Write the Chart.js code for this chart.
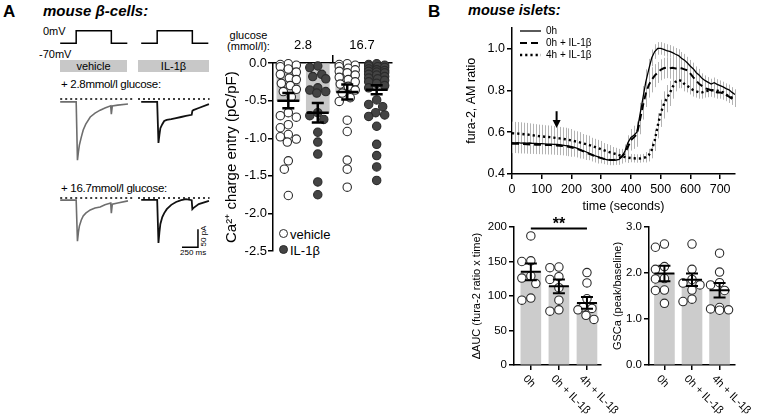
<!DOCTYPE html>
<html>
<head>
<meta charset="utf-8">
<script src="https://cdn.jsdelivr.net/npm/chart.js@4.4.1/dist/chart.umd.min.js"></script>
<style>
body { margin: 0; background: #fff; }
#fig { position: relative; width: 761px; height: 417px; overflow: hidden; font-family: "Liberation Sans", Arial, sans-serif; color: #000; }
#fig canvas { position: absolute; }
.t { position: absolute; white-space: nowrap; line-height: 1; }
.box { position: absolute; background: #c8c8c8; height: 12px; font-size: 11px; line-height: 12px; text-align: center; }
.dot { position: absolute; width: 7px; height: 7px; border-radius: 50%; border: 1.2px solid #2b2b2b; }
</style>
</head>
<body>
<div id="fig"></div>
<script>
// ---- panel A, patch clamp traces (ms / pA) ----
const traceT  = [0, 250, 270, 285, 300, 330, 360, 400, 470, 545, 625, 700, 790, 800, 815, 900, 1060];
const veh28   = [-8, -8, -170, -147, -128, -106, -86, -70, -50, -39, -31, -25, -19, -42, -19, -17, -14];
const il28    = [-8, -8, -122, -100, -81, -70, -61, -58, -56, -53, -50, -47, -44, -33, -31, -25, -14];
const veh167  = [-6, -6, -120, -95, -78, -61, -50, -42, -33, -28, -25, -19, -14, -42, -17, -14, -8];
const il167   = [-5, -5, -125, -95, -72, -53, -42, -31, -19, -11, -6, -3, -6, -31, -28, -17, -8];
const stepT   = [0, 250, 250, 800, 800, 1050];
const stepMV  = [-70, -70, 0, 0, -70, -70];
const scaleBarMs = 250, scaleBarPA = 50;

// ---- panel A, charge entry ----
const groupsA = ['2.8', '16.7'];
const yTicksA = [0, -0.5, -1, -1.5, -2, -2.5];
const meanA = [-0.50, -0.66, -0.385, -0.355];
const semA  = [0.10, 0.13, 0.10, 0.06];
const vehLow  = [-0.01,-0.02,-0.03,-0.05,-0.08,-0.12,-0.15,-0.2,-0.22,-0.27,-0.3,-0.35,-0.38,-0.45,-0.66,-0.7,-0.72,-0.82,-0.86,-0.95,-0.98,-1.01,-1.05,-1.3,-1.41,-1.76];
const ilLow   = [-0.04,-0.06,-0.15,-0.18,-0.21,-0.33,-0.36,-0.38,-0.4,-0.66,-0.7,-0.75,-0.92,-1.05,-1.21,-1.58,-1.75];
const vehHigh = [-0.01,-0.02,-0.03,-0.05,-0.07,-0.09,-0.11,-0.13,-0.16,-0.19,-0.22,-0.25,-0.28,-0.31,-0.36,-0.4,-0.46,-0.51,-0.76,-0.91,-1.29,-1.41,-1.65];
const ilHigh  = [-0.01,-0.02,-0.03,-0.04,-0.05,-0.06,-0.08,-0.09,-0.1,-0.11,-0.12,-0.13,-0.15,-0.16,-0.18,-0.2,-0.21,-0.23,-0.25,-0.27,-0.3,-0.33,-0.49,-0.55,-0.58,-0.66,-0.69,-0.71,-0.84,-1.08,-1.23,-1.38,-1.56];

// ---- panel B, fura-2 time course ----
const timeS = [0,10,20,30,40,50,60,70,80,90,100,110,120,130,140,150,160,170,180,190,200,210,220,230,240,250,260,270,280,290,300,310,320,330,340,350,360,370,380,390,400,410,420,430,440,450,460,470,480,490,500,510,520,530,540,550,560,570,580,590,600,610,620,630,640,650,660,670,680,690,700,710,720,730,740,750];
const timeTicks = [0, 100, 200, 300, 400, 500, 600, 700];
const furaTicks = [0.4, 0.6, 0.8, 1.0];
const fura0h = [0.550,0.549,0.550,0.548,0.549,0.547,0.548,0.546,0.546,0.545,
  0.545,0.544,0.543,0.543,0.542,0.541,0.540,0.538,0.536,0.534,
  0.531,0.527,0.522,0.517,0.511,0.505,0.499,0.493,0.487,0.482,
  0.477,0.472,0.468,0.466,0.465,0.466,0.470,0.482,0.510,0.550,
  0.575,0.585,0.600,0.680,0.760,0.840,0.900,0.955,0.985,1.000,
  1.000,0.995,0.990,0.986,0.980,0.972,0.966,0.953,0.944,0.930,
  0.915,0.902,0.884,0.872,0.856,0.846,0.838,0.830,0.836,0.828,
  0.822,0.816,0.808,0.802,0.790,0.780];
const furaIL0h = [0.545,0.545,0.544,0.543,0.543,0.542,0.541,0.541,0.540,0.540,
  0.539,0.539,0.538,0.538,0.537,0.536,0.535,0.534,0.532,0.530,
  0.527,0.523,0.519,0.514,0.508,0.502,0.496,0.490,0.485,0.480,
  0.476,0.472,0.469,0.467,0.467,0.469,0.475,0.485,0.500,0.530,
  0.562,0.575,0.590,0.655,0.725,0.785,0.825,0.850,0.870,0.885,
  0.898,0.905,0.908,0.905,0.908,0.904,0.907,0.905,0.900,0.895,
  0.880,0.862,0.845,0.830,0.820,0.810,0.805,0.800,0.795,0.790,
  0.790,0.785,0.778,0.770,0.760,0.750];
const furaIL4h = [0.595,0.594,0.593,0.592,0.590,0.589,0.587,0.585,0.583,0.581,
  0.580,0.578,0.577,0.576,0.574,0.572,0.570,0.568,0.566,0.563,
  0.560,0.557,0.554,0.550,0.546,0.542,0.538,0.533,0.528,0.523,
  0.518,0.513,0.508,0.503,0.499,0.495,0.490,0.485,0.481,0.478,
  0.476,0.475,0.474,0.474,0.476,0.480,0.490,0.515,0.560,0.630,
  0.690,0.730,0.760,0.785,0.815,0.840,0.850,0.845,0.830,0.820,
  0.810,0.800,0.795,0.790,0.790,0.795,0.797,0.800,0.800,0.798,
  0.795,0.790,0.780,0.770,0.765,0.760];
const sem0h = [0.04,0.04,0.04,0.04,0.04,0.04,0.04,0.04,0.04,0.04,
  0.04,0.04,0.04,0.04,0.04,0.04,0.04,0.04,0.04,0.04,
  0.04,0.04,0.035,0.035,0.03,0.03,0.03,0.025,0.025,0.025,
  0.02,0.02,0.02,0.02,0.02,0.02,0.025,0.03,0.03,0.035,
  0.04,0.045,0.05,0.06,0.06,0.06,0.05,0.04,0.035,0.03,
  0.03,0.03,0.03,0.03,0.03,0.03,0.03,0.03,0.03,0.03,
  0.03,0.03,0.03,0.03,0.025,0.025,0.025,0.025,0.025,0.025,
  0.025,0.025,0.025,0.025,0.025,0.025];
const semIL0h = [0.045,0.045,0.045,0.045,0.045,0.045,0.045,0.045,0.045,0.045,
  0.045,0.045,0.045,0.045,0.045,0.045,0.045,0.045,0.045,0.045,
  0.045,0.04,0.04,0.04,0.035,0.035,0.03,0.03,0.03,0.03,
  0.025,0.025,0.025,0.025,0.025,0.025,0.03,0.035,0.04,0.045,
  0.05,0.055,0.06,0.065,0.065,0.065,0.06,0.06,0.055,0.05,
  0.05,0.05,0.05,0.05,0.05,0.05,0.05,0.05,0.05,0.05,
  0.045,0.04,0.035,0.035,0.03,0.03,0.03,0.03,0.03,0.03,
  0.03,0.03,0.03,0.03,0.03,0.03];
const semIL4h = [0.055,0.055,0.055,0.055,0.055,0.055,0.055,0.055,0.055,0.055,
  0.055,0.055,0.055,0.055,0.055,0.055,0.055,0.055,0.055,0.055,
  0.055,0.05,0.05,0.05,0.045,0.045,0.045,0.04,0.04,0.04,
  0.04,0.035,0.035,0.035,0.03,0.03,0.03,0.025,0.025,0.025,
  0.02,0.02,0.02,0.02,0.02,0.025,0.03,0.04,0.05,0.06,
  0.065,0.065,0.065,0.06,0.055,0.045,0.04,0.035,0.035,0.03,
  0.03,0.03,0.03,0.03,0.03,0.03,0.03,0.03,0.03,0.03,
  0.03,0.03,0.03,0.03,0.03,0.03];
const arrowAt = 150, arrowFrom = 0.70, arrowTo = 0.62;

// ---- panel B, summary bars ----
const catsB = ['0h', '0h + IL-1β', '4h + IL-1β'];
const aucTicks = [0, 50, 100, 150, 200];
const aucMean = [135, 114, 90];
const aucSem  = [12, 10, 8.5];
const auc0h   = [187, 151, 150, 129, 126, 118, 97, 94];
const aucIL0h = [142, 141, 128, 124, 112, 94, 80, 78];
const aucIL4h = [134, 119, 96, 84, 82, 80, 72, 66];
const sigLevel = 198;
const gscTicks = [0, 1, 2, 3];
const gscMean = [1.99, 1.855, 1.625];
const gscSem  = [0.17, 0.135, 0.155];
const gsc0h   = [2.63, 2.56, 2.14, 2.08, 1.88, 1.87, 1.63, 1.62, 1.34];
const gscIL0h = [2.63, 2.08, 1.86, 1.78, 1.74, 1.63, 1.43, 1.38];
const gscIL4h = [2.43, 2.02, 1.79, 1.74, 1.62, 1.25, 1.22, 1.2, 1.19];

const FONT = '"Liberation Sans", Arial, sans-serif';
Chart.defaults.font.family = FONT;
Chart.defaults.color = '#000';
Chart.defaults.animation = false;
Chart.defaults.responsive = false;
Chart.defaults.devicePixelRatio = 1;
Chart.defaults.plugins.legend.display = false;
Chart.defaults.plugins.tooltip.enabled = false;

const fig = document.getElementById('fig');

function canvasAt(left, top, w, h) {
  var c = document.createElement('canvas');
  c.width = w; c.height = h;
  c.style.left = left + 'px'; c.style.top = top + 'px';
  c.style.width = w + 'px'; c.style.height = h + 'px';
  fig.appendChild(c);
  return c;
}

function addText(txt, left, top, size, style) {
  var d = document.createElement('div');
  d.className = 't';
  d.textContent = txt;
  d.style.left = left + 'px'; d.style.top = top + 'px';
  d.style.fontSize = size + 'px';
  if (style) d.style.cssText += style;
  fig.appendChild(d);
  return d;
}

const xy = (xs, ys) => xs.map((x, i) => ({ x: x, y: ys[i] }));

// ---------- texts ----------
addText('A', 3, 3, 17, 'font-weight:bold;');
addText('mouse β-cells:', 43, 3, 15, 'font-weight:bold;font-style:italic;');
addText('B', 428, 3, 17, 'font-weight:bold;');
addText('mouse islets:', 468, 3, 14.5, 'font-weight:bold;font-style:italic;');
addText('0mV', 43, 25.5, 11);
addText('-70mV', 39, 48.5, 11);
addText('+ 2.8mmol/l glucose:', 61, 78.5, 11.5, 'letter-spacing:-0.3px;');
addText('+ 16.7mmol/l glucose:', 61, 183, 11.5, 'letter-spacing:-0.3px;');
addText('glucose', 248.5, 30, 11, 'transform:translateX(-50%);');
addText('(mmol/l):', 248.5, 40.5, 11, 'transform:translateX(-50%);');
addText('250 ms', 180, 249, 8);
addText('50 pA', 204, 236, 8, 'transform:translate(-50%,-50%) rotate(-90deg);');
addText('vehicle', 290, 227.5, 13);
addText('IL-1β', 290, 243.5, 13);

var b1 = document.createElement('div');
b1.className = 'box'; b1.textContent = 'vehicle';
b1.style.left = '60px'; b1.style.top = '60px'; b1.style.width = '67px';
fig.appendChild(b1);
var b2 = document.createElement('div');
b2.className = 'box'; b2.textContent = 'IL-1β';
b2.style.left = '138px'; b2.style.top = '60px'; b2.style.width = '71px';
fig.appendChild(b2);

var d1 = document.createElement('div');
d1.className = 'dot'; d1.style.left = '278.5px'; d1.style.top = '228.5px'; d1.style.background = '#fff';
fig.appendChild(d1);
var d2 = document.createElement('div');
d2.className = 'dot'; d2.style.left = '278.5px'; d2.style.top = '244.5px'; d2.style.background = '#444';
fig.appendChild(d2);

// ---------- traces ----------
function lineSet(data, color, width, dash) {
  return { data: data, showLine: true, pointRadius: 0, borderColor: color, borderWidth: width, borderDash: dash || [], tension: 0 };
}

function traceChart(cv, sets, yMin, yMax) {
  return new Chart(cv, {
    type: 'scatter',
    data: { datasets: sets },
    options: {
      layout: { padding: 0 },
      scales: {
        x: { type: 'linear', display: false, min: -50, max: 1170 },
        y: { type: 'linear', display: false, min: yMin, max: yMax }
      }
    }
  });
}

traceChart(canvasAt(57, 26, 78, 22), [lineSet(xy(stepT, stepMV), '#000', 1.5)], -96, 26);
traceChart(canvasAt(138, 26, 78, 22), [lineSet(xy(stepT, stepMV), '#000', 1.5)], -96, 26);

const baseVeh = [{ x: 0, y: 0 }, { x: 1170, y: 0 }];
const baseIL = [{ x: -50, y: 0 }, { x: 1070, y: 0 }];
traceChart(canvasAt(57, 92, 78, 72), [lineSet(xy(traceT, veh28), '#6e6e6e', 1.6), lineSet(baseVeh, '#000', 1.3, [2, 3])], -180.7, 19.5);
traceChart(canvasAt(138, 92, 78, 72), [lineSet(xy(traceT, il28), '#111', 1.8), lineSet(baseIL, '#000', 1.3, [2, 3])], -180.7, 19.5);
traceChart(canvasAt(57, 191, 78, 72), [lineSet(xy(traceT, veh167), '#6e6e6e', 1.6), lineSet(baseVeh, '#000', 1.3, [2, 3])], -180.7, 19.5);

const barEnd = 888, barBottom = -137;
const scaleBar = [{ x: barEnd - scaleBarMs, y: barBottom }, { x: barEnd, y: barBottom }, { x: barEnd, y: barBottom + scaleBarPA }];
traceChart(canvasAt(138, 191, 78, 72), [lineSet(xy(traceT, il167), '#111', 1.8), lineSet(baseIL, '#000', 1.3, [2, 3]), lineSet(scaleBar, '#000', 1.5)], -180.7, 19.5);

// ---------- shared helpers for the dot + bar charts ----------
function swarmSet(center, vals, fill) {
  return {
    type: 'scatter', center: center, values: vals,
    data: vals.map(v => ({ x: center, y: v })),
    pointRadius: 4.2, pointBackgroundColor: fill, pointBorderColor: '#2b2b2b', pointBorderWidth: 1.1,
    clip: false, order: 1
  };
}

// beeswarm: spread points sideways so circles do not sit on top of each other
function spread(chart, r, maxOff) {
  const xs = chart.scales.x, ys = chart.scales.y;
  chart.data.datasets.forEach(ds => {
    if (ds.type !== 'scatter') return;
    const cx = xs.getPixelForValue(ds.center);
    const placed = [];
    ds.data = ds.values.map(v => {
      const py = ys.getPixelForValue(v);
      let best = 0, bestHit = Infinity;
      for (let k = 0; k <= 2 * maxOff; k++) {
        const off = (k % 2 ? -1 : 1) * Math.ceil(k / 2);
        let hit = 0;
        placed.forEach(p => {
          const d = Math.hypot(p[0] - off, p[1] - py);
          if (d < 2 * r) hit += 2 * r - d;
        });
        if (hit < bestHit - 0.01) { bestHit = hit; best = off; }
        if (hit === 0) break;
      }
      placed.push([best, py]);
      return { x: xs.getValueForPixel(cx + best), y: v };
    });
  });
  chart.update('none');
}

function errorBars(means, sems, meanW, capW, lw) {
  return {
    id: 'errbars',
    afterDatasetsDraw(chart) {
      const ctx = chart.ctx, x = chart.scales.x, y = chart.scales.y;
      ctx.save();
      ctx.strokeStyle = '#000'; ctx.lineWidth = lw;
      means.forEach((m, i) => {
        const px = x.getPixelForValue(i);
        const pm = y.getPixelForValue(m), ph = y.getPixelForValue(m + sems[i]), pl = y.getPixelForValue(m - sems[i]);
        ctx.beginPath();
        ctx.moveTo(px, ph); ctx.lineTo(px, pl);
        ctx.moveTo(px - capW / 2, ph); ctx.lineTo(px + capW / 2, ph);
        ctx.moveTo(px - capW / 2, pl); ctx.lineTo(px + capW / 2, pl);
        ctx.moveTo(px - meanW / 2, pm); ctx.lineTo(px + meanW / 2, pm);
        ctx.stroke();
      });
      ctx.restore();
    }
  };
}

function catLabels(labels) {
  return {
    id: 'catlabels',
    afterDraw(chart) {
      const ctx = chart.ctx, x = chart.scales.x;
      ctx.save();
      ctx.font = '11px ' + FONT; ctx.fillStyle = '#000';
      ctx.textAlign = 'left'; ctx.textBaseline = 'middle';
      labels.forEach((l, i) => {
        ctx.save();
        ctx.translate(x.getPixelForValue(i) - 6, x.top + 12);
        ctx.rotate(Math.PI / 4);
        ctx.fillText(l, 0, 0);
        ctx.restore();
      });
      ctx.restore();
    }
  };
}

const axisGrid = { drawOnChartArea: false, tickLength: 5, lineWidth: 1.5, color: '#000', offset: false };
const axisBorder = { color: '#000', width: 1.5 };

// ---------- panel A charge entry ----------
const cvA = canvasAt(219, 20, 181, 240);
const chartA = new Chart(cvA, {
  type: 'bar',
  data: {
    datasets: [
      { type: 'bar', data: meanA.map((m, i) => ({ x: i, y: m })), backgroundColor: '#c8c8c8', barThickness: 23, order: 3 },
      swarmSet(0, vehLow, '#fff'),
      swarmSet(1, ilLow, '#444'),
      swarmSet(2, vehHigh, '#fff'),
      swarmSet(3, ilHigh, '#444')
    ]
  },
  options: {
    layout: { padding: { left: 0, top: 0, right: 8, bottom: 7 } },
    scales: {
      x: {
        type: 'linear', position: 'top', min: -0.52, max: 3.52, offset: false,
        afterFit: s => { s.height = 43; },
        afterBuildTicks: s => { s.ticks = [0.5, 1.5, 2.5].map(v => ({ value: v })); },
        ticks: { callback: (v, i) => [groupsA[0], '', groupsA[1]][i], font: { size: 13 }, padding: 2, maxRotation: 0, autoSkip: false },
        grid: { drawOnChartArea: false, tickLength: 8, lineWidth: 1.5, offset: false, color: c => c.index === 1 ? '#000' : 'rgba(0,0,0,0)' },
        border: axisBorder
      },
      y: {
        min: -2.5, max: 0,
        afterFit: s => { s.width = 54; },
        afterBuildTicks: s => { s.ticks = yTicksA.map(v => ({ value: v })); },
        ticks: { callback: v => v.toFixed(1), font: { size: 13 }, padding: 1 },
        grid: axisGrid,
        border: axisBorder,
        title: { display: true, text: 'Ca²⁺ charge entry (pC/pF)', font: { size: 15 }, padding: { top: 4, bottom: 0 } }
      }
    }
  },
  plugins: [errorBars(meanA, semA, 22, 12, 2.5)]
});
spread(chartA, 4.5, 8);

// ---------- panel B time course ----------
const semBars = {
  id: 'sembars',
  beforeDatasetsDraw(chart) {
    const ctx = chart.ctx, x = chart.scales.x, y = chart.scales.y;
    ctx.save();
    ctx.strokeStyle = '#b3b3b3'; ctx.lineWidth = 1;
    chart.data.datasets.forEach(ds => ds.data.forEach((p, i) => {
      const px = Math.round(x.getPixelForValue(p.x)) + 0.5;
      ctx.beginPath();
      ctx.moveTo(px, y.getPixelForValue(p.y + ds.sem[i]));
      ctx.lineTo(px, y.getPixelForValue(p.y - ds.sem[i]));
      ctx.stroke();
    }));
    ctx.restore();
  }
};

const legendB = {
  id: 'legendb',
  afterDatasetsDraw(chart) {
    const ctx = chart.ctx, a = chart.chartArea;
    ctx.save();
    ctx.font = '10px ' + FONT; ctx.fillStyle = '#000'; ctx.textBaseline = 'middle';
    chart.data.datasets.forEach((ds, i) => {
      const ly = a.top + 3.5 + 12 * i;
      ctx.strokeStyle = '#000'; ctx.lineWidth = ds.borderWidth; ctx.setLineDash(ds.borderDash);
      ctx.beginPath(); ctx.moveTo(a.left + 8, ly); ctx.lineTo(a.left + 29, ly); ctx.stroke();
      ctx.setLineDash([]);
      ctx.fillText(ds.label, a.left + 34, ly);
    });
    ctx.restore();
  }
};

const arrowB = {
  id: 'arrowb',
  afterDatasetsDraw(chart) {
    const ctx = chart.ctx, x = chart.scales.x, y = chart.scales.y;
    const px = x.getPixelForValue(arrowAt), y0 = y.getPixelForValue(arrowFrom), y1 = y.getPixelForValue(arrowTo);
    ctx.save();
    ctx.strokeStyle = '#000'; ctx.fillStyle = '#000'; ctx.lineWidth = 2;
    ctx.beginPath(); ctx.moveTo(px, y0); ctx.lineTo(px, y1 - 6); ctx.stroke();
    ctx.beginPath(); ctx.moveTo(px - 4, y1 - 8); ctx.lineTo(px + 4, y1 - 8); ctx.lineTo(px, y1); ctx.closePath(); ctx.fill();
    ctx.restore();
  }
};

new Chart(canvasAt(460, 18, 290, 200), {
  type: 'line',
  data: {
    datasets: [
      { label: '0h', data: xy(timeS, fura0h), sem: sem0h, borderColor: '#000', borderWidth: 1.3, borderDash: [] },
      { label: '0h + IL-1β', data: xy(timeS, furaIL0h), sem: semIL0h, borderColor: '#000', borderWidth: 2, borderDash: [7, 4] },
      { label: '4h + IL-1β', data: xy(timeS, furaIL4h), sem: semIL4h, borderColor: '#000', borderWidth: 2.4, borderDash: [2.2, 3] }
    ]
  },
  options: {
    elements: { point: { radius: 0 }, line: { tension: 0 } },
    layout: { padding: { left: 0, top: 8, right: 15, bottom: 0 } },
    scales: {
      x: {
        type: 'linear', min: 0, max: 750,
        afterFit: s => { s.height = 44; },
        afterBuildTicks: s => { s.ticks = timeTicks.map(v => ({ value: v })); },
        ticks: { font: { size: 12.5 }, padding: 3, maxRotation: 0 },
        grid: axisGrid, border: axisBorder,
        title: { display: true, text: 'time (seconds)', font: { size: 12.5 }, padding: { top: 0, bottom: 3.5 } }
      },
      y: {
        min: 0.4, max: 1.1,
        afterFit: s => { s.width = 52; },
        afterBuildTicks: s => { s.ticks = furaTicks.map(v => ({ value: v })); },
        ticks: { callback: v => v.toFixed(1), font: { size: 12.5 }, padding: 2 },
        grid: axisGrid, border: axisBorder,
        title: { display: true, text: 'fura-2, AM ratio', font: { size: 12.5 }, padding: { top: 4, bottom: 0 } }
      }
    }
  },
  plugins: [semBars, legendB, arrowB]
});

// ---------- panel B summary bars ----------
function dotBarChart(cv, cfg) {
  const ch = new Chart(cv, {
    type: 'bar',
    data: {
      datasets: [{ type: 'bar', data: cfg.means.map((m, i) => ({ x: i, y: m })), backgroundColor: '#cccccc', barThickness: 20, order: 3 }]
        .concat(cfg.points.map((vals, i) => swarmSet(i, vals, '#fff')))
    },
    options: {
      layout: { padding: { left: 0, top: 17, right: cfg.padRight, bottom: 0 } },
      scales: {
        x: {
          type: 'linear', min: cfg.xMin, max: cfg.xMax, offset: false,
          afterFit: s => { s.height = 52; },
          afterBuildTicks: s => { s.ticks = cfg.means.map((m, i) => ({ value: i })); },
          ticks: { display: false },
          grid: axisGrid, border: axisBorder
        },
        y: {
          min: 0, max: cfg.yMax,
          afterFit: s => { s.width = cfg.yWidth; },
          afterBuildTicks: s => { s.ticks = cfg.yTicks.map(v => ({ value: v })); },
          ticks: { callback: cfg.fmt, font: { size: 11.5 }, padding: 2 },
          grid: axisGrid, border: axisBorder,
          title: { display: true, text: cfg.title, font: { size: 11 }, padding: { top: 4, bottom: 0 } }
        }
      }
    },
    plugins: [errorBars(cfg.means, cfg.sems, 20, 12, 2), catLabels(catsB)].concat(cfg.extra || [])
  });
  spread(ch, 4.5, 9);
  return ch;
}

const sigBar = {
  id: 'sigbar',
  afterDraw(chart) {
    const ctx = chart.ctx, x = chart.scales.x, y = chart.scales.y;
    const x0 = x.getPixelForValue(0), x1 = x.getPixelForValue(2), py = y.getPixelForValue(sigLevel);
    ctx.save();
    ctx.strokeStyle = '#000'; ctx.fillStyle = '#000'; ctx.lineWidth = 2;
    ctx.beginPath(); ctx.moveTo(x0, py); ctx.lineTo(x1, py); ctx.stroke();
    ctx.font = 'bold 16px ' + FONT; ctx.textAlign = 'center'; ctx.textBaseline = 'alphabetic';
    ctx.fillText('**', (x0 + x1) / 2, py + 1);
    ctx.restore();
  }
};

dotBarChart(canvasAt(466, 210, 160, 207), {
  means: aucMean, sems: aucSem, points: [auc0h, aucIL0h, aucIL4h],
  xMin: -0.6, xMax: 2.5, yMax: 200, yTicks: aucTicks, yWidth: 48, padRight: 25,
  fmt: v => String(v), title: 'ΔAUC (fura-2 ratio x time)', extra: [sigBar]
});

dotBarChart(canvasAt(607, 210, 154, 207), {
  means: gscMean, sems: gscSem, points: [gsc0h, gscIL0h, gscIL4h],
  xMin: -0.56, xMax: 2.56, yMax: 3, yTicks: gscTicks, yWidth: 42, padRight: 26,
  fmt: v => v.toFixed(1), title: 'GSCa (peak/baseline)'
});
</script>
</body>
</html>
